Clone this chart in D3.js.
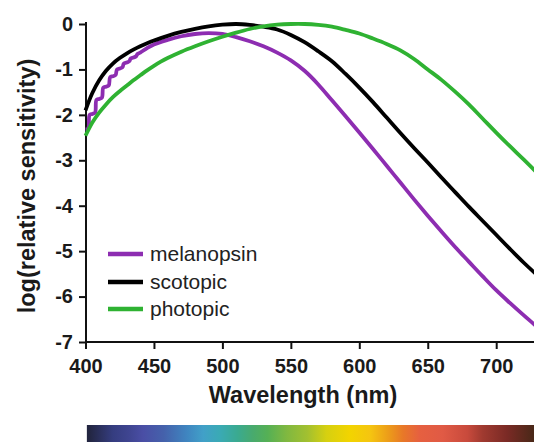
<!DOCTYPE html>
<html><head><meta charset="utf-8">
<script src="https://cdn.jsdelivr.net/npm/d3@7"></script>
<style>
html,body{margin:0;padding:0;background:#fff;}
svg{display:block;}
text{font-family:"Liberation Sans",Arial,Helvetica,sans-serif;}
</style></head>
<body>
<svg id="chart" width="534" height="442"></svg>
<script>
// ---- data ----
const seriesNames = ["melanopsin", "scotopic", "photopic"];
const seriesColors = ["#8d2db1", "#000000", "#2fb232"];

const melanopsin = [
  [400,-2.32],[402,-2.30],[403,-2.00],[405,-1.98],[407,-1.95],[408,-1.67],[410,-1.65],
  [412,-1.62],[413,-1.40],[415,-1.38],[417,-1.35],[418,-1.17],[420,-1.15],
  [422,-1.12],[423,-1.00],[425,-0.98],[427,-0.95],[428,-0.87],[430,-0.85],
  [432,-0.82],[433,-0.76],[435,-0.74],[437,-0.71],[438,-0.66],[440,-0.63],
  [445,-0.53],[450,-0.45],[460,-0.35],[470,-0.27],[480,-0.22],[490,-0.20],
  [500,-0.22],[510,-0.29],[520,-0.38],[530,-0.49],[540,-0.63],[550,-0.80],
  [560,-1.03],[570,-1.33],[580,-1.68],[590,-2.03],[600,-2.39],[610,-2.75],
  [620,-3.12],[630,-3.49],[640,-3.86],[650,-4.22],[660,-4.57],[670,-4.91],
  [680,-5.23],[690,-5.55],[700,-5.86],[710,-6.14],[720,-6.41],[730,-6.67]
];
const scotopic = [
  [400,-1.90],[405,-1.52],[410,-1.24],[415,-1.03],[420,-0.87],[425,-0.75],
  [430,-0.65],[435,-0.565],[440,-0.49],[445,-0.425],[450,-0.365],[455,-0.31],
  [460,-0.26],[470,-0.175],[480,-0.105],[490,-0.05],[500,-0.015],[510,0.00],
  [520,-0.02],[530,-0.06],[540,-0.12],[550,-0.24],[560,-0.40],[570,-0.60],
  [580,-0.82],[590,-1.10],[600,-1.40],[610,-1.72],[620,-2.06],[630,-2.40],
  [640,-2.73],[650,-3.05],[660,-3.38],[670,-3.70],[680,-4.02],[690,-4.33],
  [700,-4.64],[710,-4.95],[720,-5.25],[730,-5.53]
];
const photopic = [
  [400,-2.46],[405,-2.17],[410,-1.95],[415,-1.77],[420,-1.61],[425,-1.48],
  [430,-1.36],[435,-1.24],[440,-1.13],[445,-1.02],[450,-0.92],[455,-0.83],
  [460,-0.75],[470,-0.61],[480,-0.49],[490,-0.38],[500,-0.28],[510,-0.19],
  [520,-0.11],[530,-0.05],[540,-0.015],[550,0.00],[560,0.00],[570,-0.02],
  [580,-0.06],[590,-0.13],[600,-0.21],[610,-0.32],[620,-0.44],[630,-0.58],
  [640,-0.77],[650,-1.00],[660,-1.23],[670,-1.49],[680,-1.77],[690,-2.08],
  [700,-2.39],[710,-2.69],[720,-2.98],[730,-3.28]
];
const xTicks = [400,450,500,550,600,650,700];
const yTicks = [0,-1,-2,-3,-4,-5,-6,-7];
const xTitle = "Wavelength (nm)";
const yTitle = "log(relative sensitivity)";
const spectrumNm = [401,403,420,432,442,457,474,486,498,511,522,533,547,562,576,593,608,622,632,644,661,679,690,708,727];
const spectrumColors = ["#22253f","#232642","#353d80","#3f4591","#4a4ea5","#4561ab","#3f85c0","#41a0c8","#3aaab5","#3aaa90","#48aa6e","#55b055","#80b840","#a2c030","#d6d010","#f2d400","#f5c510","#ec9a1a","#e87828","#e66040","#e05a45","#c84a3c","#a03a30","#7a2a25","#4a2818"];

// ---- layout ----
const svg = d3.select("#chart");
const x = d3.scaleLinear().domain([400,730]).range([85.5, 85.5 + 330*1.369]);
const y = d3.scaleLinear().domain([0,-7]).range([24, 342]);

// spectrum bar
const defs = svg.append("defs");
const grad = defs.append("linearGradient").attr("id","spec")
  .attr("gradientUnits","userSpaceOnUse")
  .attr("x1", x(400)).attr("x2", x(730)).attr("y1",0).attr("y2",0);
spectrumNm.forEach((nm,i)=>{
  grad.append("stop").attr("offset", (x(nm)-x(400))/(x(730)-x(400))).attr("stop-color", spectrumColors[i]);
});
svg.append("rect").attr("x", x(401)).attr("y",425).attr("width", 534 - x(401)).attr("height",17)
  .attr("fill","url(#spec)");

// axes
const xAxis = d3.axisBottom(x).tickValues(xTicks).tickSize(7).tickSizeOuter(0).tickPadding(10);
const yAxis = d3.axisLeft(y).tickValues(yTicks).tickSize(7).tickSizeOuter(0).tickPadding(6)
  .tickFormat(d=>d===0?"0":String(d));

const gx = svg.append("g").attr("transform","translate(0,342)").call(xAxis);
const gy = svg.append("g").attr("transform","translate(86,0)").call(yAxis);
gx.select(".domain").attr("d", `M${x(400)},0H534`);
gy.select(".domain").attr("d", `M0,${y(0)-2}V${y(-7)+1}`);
[gx,gy].forEach(g=>{
  g.selectAll(".domain, .tick line").attr("stroke","#111").attr("stroke-width",2);
  g.selectAll("text").attr("fill","#1a1a1a").style("font-size","20px").style("font-weight","bold")
    .style("font-family",'"Liberation Sans",Arial,sans-serif');
});

// titles
svg.append("text").attr("x",303).attr("y",403).attr("text-anchor","middle")
  .style("font-size","23.5px").style("font-weight","bold").attr("fill","#1a1a1a").text(xTitle);
svg.append("text").attr("transform","translate(35,186) rotate(-90)").attr("text-anchor","middle")
  .style("font-size","23.5px").style("font-weight","bold").attr("fill","#1a1a1a").text(yTitle);

// curves
const line = d3.line().x(d=>x(d[0])).y(d=>y(d[1])).curve(d3.curveCatmullRom.alpha(0.5));
const seriesData = [melanopsin, scotopic, photopic];
svg.append("clipPath").attr("id","clip").append("rect").attr("x",80).attr("y",0).attr("width",454).attr("height",342);
const gLines = svg.append("g").attr("clip-path","url(#clip)");
seriesData.forEach((d,i)=>{
  gLines.append("path").datum(d).attr("d",line).attr("fill","none")
    .attr("stroke",seriesColors[i]).attr("stroke-width",3.8).attr("stroke-linejoin","round");
});

// legend
const legY = [254, 282, 309];
seriesNames.forEach((n,i)=>{
  svg.append("line").attr("x1",108).attr("x2",143).attr("y1",legY[i]).attr("y2",legY[i])
    .attr("stroke",seriesColors[i]).attr("stroke-width",4.3);
  svg.append("text").attr("x",150).attr("y",legY[i]).attr("dy","0.33em")
    .style("font-size","21px").attr("fill","#222").text(n);
});
</script>
</body></html>
